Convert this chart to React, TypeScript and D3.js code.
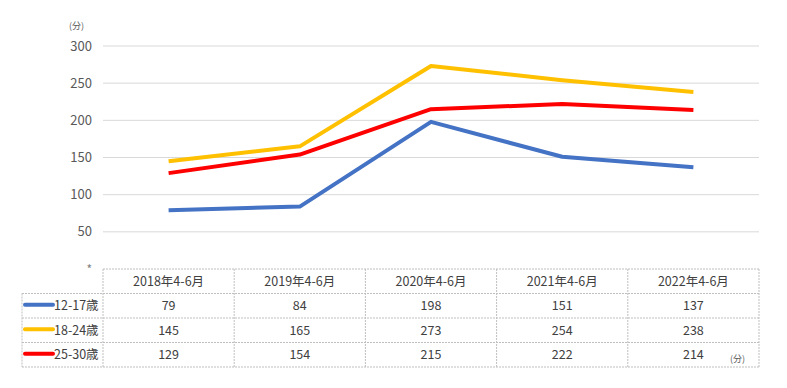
import React, { useEffect, useRef } from 'react';
import * as d3 from 'd3';

// Chart data
const categories = ['2018年4-6月', '2019年4-6月', '2020年4-6月', '2021年4-6月', '2022年4-6月'];
const seriesNames = ['12-17歳', '18-24歳', '25-30歳'];
const seriesColors = ['#4472C4', '#FFC000', '#FF0000'];
const teen = [79, 84, 198, 151, 137];
const young = [145, 165, 273, 254, 238];
const adult = [129, 154, 215, 222, 214];
const yTicks = [50, 100, 150, 200, 250, 300];

const FONT = '"Noto Sans CJK JP", "Noto Sans", sans-serif';

const App = () => {
  const ref = useRef<SVGSVGElement>(null);

  useEffect(() => {
    if (!ref.current) return;
    const svg = d3.select(ref.current);
    svg.selectAll('*').remove();

    const series = [teen, young, adult];

    // Layout
    const left = 103, right = 759, top = 46, bottom = 269;
    const legendLeft = 22;
    const rowH = 24.5;

    const x = d3.scaleBand().domain(categories).range([left, right]);
    const y = d3.scaleLinear().domain([0, 300]).range([bottom, top]);

    // Gridlines
    svg.append('g')
      .selectAll('line')
      .data(yTicks)
      .join('line')
      .attr('x1', left)
      .attr('x2', right)
      .attr('y1', d => y(d))
      .attr('y2', d => y(d))
      .attr('stroke', '#d9d9d9')
      .attr('stroke-width', 1);

    // Y labels
    svg.append('g')
      .selectAll('text')
      .data(yTicks)
      .join('text')
      .attr('x', 92)
      .attr('y', d => y(d) + 4.5)
      .attr('text-anchor', 'end')
      .attr('font-size', 13)
      .attr('font-family', FONT)
      .attr('fill', '#595959')
      .text(d => d);

    svg.append('text')
      .attr('x', 92).attr('y', y(0) + 5)
      .attr('text-anchor', 'end')
      .attr('font-size', 12)
      .attr('font-family', FONT)
      .attr('fill', '#7f7f7f')
      .text('*');

    svg.append('text')
      .attr('x', 69).attr('y', 29)
      .attr('font-size', 9)
      .attr('font-family', FONT)
      .attr('fill', '#595959')
      .text('(分)');

    // Lines
    const line = d3.line<number>()
      .x((_, i) => (x(categories[i]) ?? 0) + x.bandwidth() / 2)
      .y(d => y(d));

    series.forEach((s, i) => {
      svg.append('path')
        .datum(s)
        .attr('d', line)
        .attr('fill', 'none')
        .attr('stroke', seriesColors[i])
        .attr('stroke-width', 4)
        .attr('stroke-linejoin', 'round');
    });

    // Data table
    const table = svg.append('g');
    const border = '#bfbfbf';
    const rowY = (r: number) => bottom + r * rowH;
    const tableBottom = rowY(4);

    // horizontal lines
    table.append('line')
      .attr('x1', left).attr('x2', right)
      .attr('y1', rowY(0)).attr('y2', rowY(0))
      .attr('stroke', border).attr('stroke-dasharray', '2,1');
    [1, 2, 3, 4].forEach(r => {
      table.append('line')
        .attr('x1', legendLeft).attr('x2', right)
        .attr('y1', rowY(r)).attr('y2', rowY(r))
        .attr('stroke', border).attr('stroke-dasharray', '2,1');
    });
    // vertical lines
    table.append('line')
      .attr('x1', legendLeft).attr('x2', legendLeft)
      .attr('y1', rowY(1)).attr('y2', tableBottom)
      .attr('stroke', border).attr('stroke-dasharray', '2,1');
    [...categories.map(c => x(c) ?? 0), right].forEach(xx => {
      table.append('line')
        .attr('x1', xx).attr('x2', xx)
        .attr('y1', rowY(0)).attr('y2', tableBottom)
        .attr('stroke', border).attr('stroke-dasharray', '2,1');
    });

    // header
    table.selectAll('text.head')
      .data(categories)
      .join('text')
      .attr('class', 'head')
      .attr('x', d => (x(d) ?? 0) + x.bandwidth() / 2)
      .attr('y', rowY(0) + rowH / 2 + 4.5)
      .attr('text-anchor', 'middle')
      .attr('font-size', 12.5)
      .attr('font-family', FONT)
      .attr('fill', '#404040')
      .text(d => d);

    // rows
    series.forEach((s, i) => {
      const cy = rowY(i + 1) + rowH / 2;
      table.append('line')
        .attr('x1', legendLeft + 3).attr('x2', 53)
        .attr('y1', cy - 1).attr('y2', cy - 1)
        .attr('stroke', seriesColors[i])
        .attr('stroke-width', 4)
        .attr('stroke-linecap', 'round');
      table.append('text')
        .attr('x', 54).attr('y', cy + 4.5)
        .attr('font-size', 12.5)
        .attr('font-family', FONT)
        .attr('fill', '#404040')
        .text(seriesNames[i]);
      table.selectAll(`text.v${i}`)
        .data(s)
        .join('text')
        .attr('class', `v${i}`)
        .attr('x', (_, j) => (x(categories[j]) ?? 0) + x.bandwidth() / 2)
        .attr('y', cy + 4.5)
        .attr('text-anchor', 'middle')
        .attr('font-size', 12.5)
        .attr('font-family', FONT)
        .attr('fill', '#404040')
        .text(d => d);
    });

    svg.append('text')
      .attr('x', 730).attr('y', 362)
      .attr('font-size', 9)
      .attr('font-family', FONT)
      .attr('fill', '#595959')
      .text('(分)');
  }, []);

  return (
    <svg
      ref={ref}
      width={787}
      height={388}
      style={{ position: 'absolute', left: 0, top: 0, background: '#fff' }}
    />
  );
};

export default App;
